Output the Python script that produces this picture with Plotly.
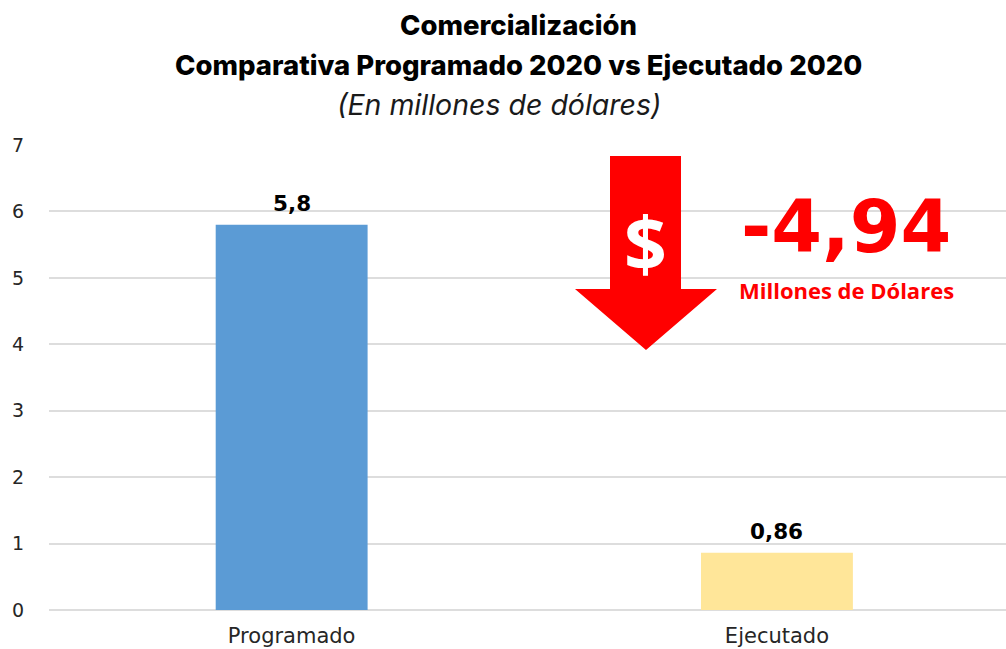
import plotly.graph_objects as go

categories = ["Programado", "Ejecutado"]
values = [5.8, 0.86]
bar_colors = ["#5B9BD5", "#FFE699"]
y_ticks = [0, 1, 2, 3, 4, 5, 6, 7]
title_lines = ["Comercialización", "Comparativa Programado 2020 vs Ejecutado 2020"]
subtitle = "(En millones de dólares)"
delta_label = "-4,94"
delta_unit = "Millones de Dólares"
value_labels = ["5,8", "0,86"]

W, H = 1006, 649
L, R, T, B = 49, 0, 144, 39


def px(x):
    return (x - L) / (W - L - R)


def py(y):
    return 1 - (y - T) / (H - T - B)


fig = go.Figure(
    go.Bar(
        x=categories,
        y=values,
        width=0.313,
        marker=dict(color=bar_colors, line=dict(width=0)),
        hoverinfo="skip",
    )
)

arrow = [(610, 156), (681, 156), (681, 289), (717, 289), (646, 350), (575, 289), (610, 289)]
path = "M " + " L ".join(f"{px(a):.5f},{py(b):.5f}" for a, b in arrow) + " Z"


def note(text, x, y, size, color, family, weight="normal", style="normal"):
    return dict(
        text=text, x=px(x), y=py(y), xref="paper", yref="paper",
        xanchor="center", yanchor="middle", showarrow=False,
        font=dict(family=family, size=size, color=color, weight=weight, style=style),
    )


bar_notes = [
    dict(
        text=label, x=cat, y=val, xref="x", yref="y", xanchor="center", yanchor="bottom",
        yshift=7, showarrow=False,
        font=dict(family="DejaVu Sans", size=21.5, color="#000000", weight="bold"),
    )
    for cat, val, label in zip(categories, values, value_labels)
]

fig.update_layout(
    width=W,
    height=H,
    margin=dict(l=L, r=R, t=T, b=B, pad=0),
    paper_bgcolor="#FFFFFF",
    plot_bgcolor="#FFFFFF",
    showlegend=False,
    xaxis=dict(
        range=[-0.5, 1.472],
        automargin=False,
        showgrid=False,
        zeroline=False,
        showline=False,
        ticks="",
        ticklabelstandoff=11,
        tickfont=dict(family="DejaVu Sans", size=21, color="#262626"),
    ),
    yaxis=dict(
        range=[0, 7.015],
        automargin=False,
        tickvals=y_ticks,
        showgrid=True,
        gridcolor="#DDDDDD",
        gridwidth=1.5,
        zeroline=True,
        zerolinecolor="#DDDDDD",
        zerolinewidth=1.5,
        showline=False,
        ticks="",
        ticklabelstandoff=24,
        tickfont=dict(family="DejaVu Sans", size=19, color="#262626"),
    ),
    shapes=[
        dict(type="path", path=path, xref="paper", yref="paper",
             fillcolor="#FF0000", line=dict(width=0), layer="above")
    ],
    annotations=bar_notes + [
        note(title_lines[0], 518, 25, 27.5, "#000000", "Inter", weight=800),
        note(title_lines[1], 518, 65, 27.5, "#000000", "Inter", weight=800),
        note(subtitle, 499, 105, 28.5, "#1A1A1A", "Inter", style="italic"),
        note("$", 645, 242, 75, "#FFFFFF", "Open Sans", weight="bold"),
        note(delta_label, 846, 226, 73, "#FF0000", "DejaVu Sans", weight="bold"),
        note(delta_unit, 846, 290, 22, "#FF0000", "Open Sans", weight="bold"),
    ],
)

fig.write_html(
    "out.html",
    config={"displayModeBar": False},
    post_script="document.body.style.margin='0';document.body.style.overflow='hidden';",
)
